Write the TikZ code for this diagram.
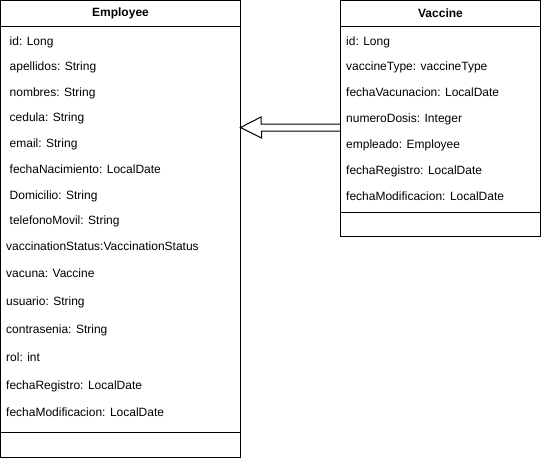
\documentclass[tikz,border=0pt]{standalone}
\usepackage{fontspec}
\setmainfont{Liberation Sans}
\usepackage{tikz}
\usetikzlibrary{calc}
\tikzstyle{cls}=[rectangle,draw=black,fill=white,line width=1pt,inner sep=0pt]
\tikzstyle{title}=[font=\fontsize{12}{14}\selectfont\bfseries,inner sep=0pt]
\tikzstyle{attr}=[anchor=base west,font=\fontsize{12}{14}\selectfont,inner sep=0pt]
\tikzstyle{none}=[]
\tikzstyle{sep}=[line width=1pt]

\begin{document}
\begin{tikzpicture}[x=1pt, y=-1pt]
            \useasboundingbox (0,0) rectangle (541,458);
            % Employee
            \node [style=cls, minimum width=240pt, minimum height=457pt] (0) at (120.5, 229) {};
            \node [style=none] (1) at (0.5, 26) {};
            \node [style=none] (2) at (240.5, 26) {};
            \node [style=none] (3) at (0.5, 432) {};
            \node [style=none] (4) at (240.5, 432) {};
            \node [style=title] (5) at (120.5, 13.5) {Employee};
            \node [style=attr] (6) at (9.5, 45) {id: Long};
            \node [style=attr] (7) at (9.5, 70.5) {apellidos: String};
            \node [style=attr] (8) at (9.5, 96) {nombres: String};
            \node [style=attr] (9) at (9.5, 121.5) {cedula: String};
            \node [style=attr] (10) at (9.5, 147.5) {email: String};
            \node [style=attr] (11) at (9.5, 173.5) {fechaNacimiento: LocalDate};
            \node [style=attr] (12) at (9.5, 199) {Domicilio: String};
            \node [style=attr] (13) at (9.5, 224.5) {telefonoMovil: String};
            \node [style=attr] (14) at (6, 250) {vaccinationStatus:VaccinationStatus};
            \node [style=attr] (15) at (6, 277.5) {vacuna: Vaccine};
            \node [style=attr] (16) at (6, 305.5) {usuario: String};
            \node [style=attr] (17) at (6, 333.5) {contrasenia: String};
            \node [style=attr] (18) at (6, 361.5) {rol: int};
            \node [style=attr] (19) at (6, 389.5) {fechaRegistro: LocalDate};
            \node [style=attr] (20) at (6, 416.5) {fechaModificacion: LocalDate};
            % Vaccine
            \node [style=cls, minimum width=200pt, minimum height=236pt] (21) at (440.5, 118.5) {};
            \node [style=none] (22) at (340.5, 26) {};
            \node [style=none] (23) at (540.5, 26) {};
            \node [style=none] (24) at (340.5, 212.5) {};
            \node [style=none] (25) at (540.5, 212.5) {};
            \node [style=title] (26) at (440.5, 13.5) {Vaccine};
            \node [style=attr] (27) at (346, 45) {id: Long};
            \node [style=attr] (28) at (346, 70.5) {vaccineType: vaccineType};
            \node [style=attr] (29) at (346, 96) {fechaVacunacion: LocalDate};
            \node [style=attr] (30) at (346, 122) {numeroDosis: Integer};
            \node [style=attr] (31) at (346, 148) {empleado: Employee};
            \node [style=attr] (32) at (346, 174) {fechaRegistro: LocalDate};
            \node [style=attr] (33) at (346, 200) {fechaModificacion: LocalDate};
            % arrow ends
            \node [style=none] (34) at (240.5, 127.5) {};
            \node [style=none] (35) at (340.5, 127.5) {};
            \draw [style=sep] (1.center) to (2.center);
            \draw [style=sep] (3.center) to (4.center);
            \draw [style=sep] (22.center) to (23.center);
            \draw [style=sep] (24.center) to (25.center);
            \draw [line width=1pt, line join=miter] (35.center) ++(0,-3.5) -- ++(-79.5,0) -- ++(0,-7)
                -- (34.center) -- ++(21,10.5) -- ++(0,-7) -- ++(79.5,0);
    \end{tikzpicture}
\end{document}
